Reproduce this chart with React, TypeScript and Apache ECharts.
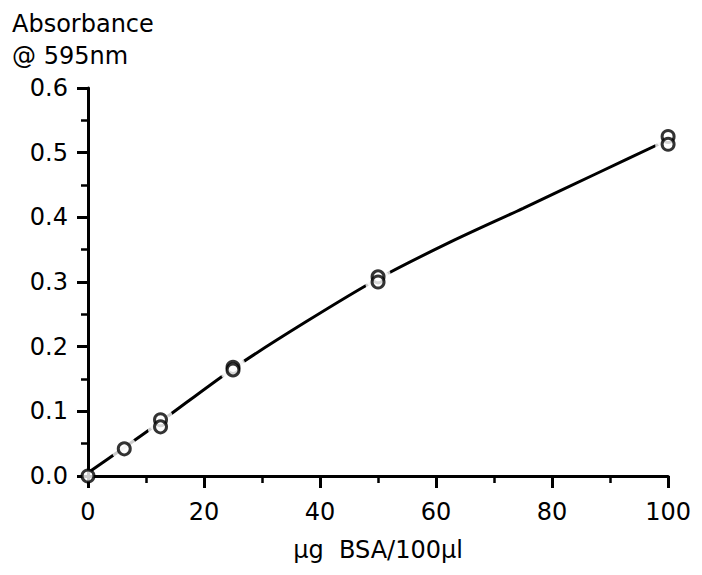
import React, { useEffect, useRef } from "react";
import * as echarts from "echarts";

// measured points: [µg BSA/100µl, absorbance]
const measuredPoints: [number, number][] = [
  [0, 0.0],
  [6.25, 0.042],
  [12.5, 0.087],
  [12.5, 0.076],
  [25, 0.168],
  [25, 0.164],
  [50, 0.308],
  [50, 0.3],
  [100, 0.525],
  [100, 0.513],
];

// fitted curve
const curveX = [0, 6.25, 12.5, 25, 37.5, 50, 62.5, 75, 87.5, 100];
const curveY = [0.005, 0.044, 0.084, 0.166, 0.238, 0.305, 0.362, 0.414, 0.467, 0.52];

const xTicks = [0, 20, 40, 60, 80, 100];
const yTicks = [0.0, 0.1, 0.2, 0.3, 0.4, 0.5, 0.6];

const FONT = "DejaVu Sans";

export default function App() {
  const ref = useRef<HTMLDivElement>(null);
  useEffect(() => {
    if (!ref.current) return;
    const chart = echarts.init(ref.current, null, { renderer: "svg" });
    const curve = curveX.map((x, i) => [x, curveY[i]]);
    const gapPts = measuredPoints.filter((p) => p[0] > 0);
    chart.setOption({
      animation: false,
      backgroundColor: "#fff",
      grid: { left: 80, right: 22, top: 80, bottom: 85 },
      graphic: [
        {
          type: "text",
          left: 4,
          top: 0,
          style: {
            text: "Absorbance\n@ 595nm",
            font: `24px '${FONT}'`,
            lineHeight: 32,
            fill: "#000",
          },
        },
      ],
      xAxis: {
        type: "value",
        min: xTicks[0],
        max: xTicks[xTicks.length - 1],
        interval: 20,
        splitLine: { show: false },
        axisLine: { lineStyle: { color: "#000", width: 3 } },
        axisTick: { length: 12, lineStyle: { color: "#000", width: 3 } },
        minorTick: { show: true, splitNumber: 2, length: 7, lineStyle: { color: "#000", width: 2.5 } },
        axisLabel: { color: "#000", fontSize: 24, fontFamily: FONT, margin: 24 },
        name: "µg  BSA/100µl",
        nameLocation: "middle",
        nameGap: 62,
        nameTextStyle: { color: "#000", fontSize: 24, fontFamily: FONT },
      },
      yAxis: {
        type: "value",
        min: yTicks[0],
        max: yTicks[yTicks.length - 1],
        interval: 0.1,
        splitLine: { show: false },
        axisLine: { lineStyle: { color: "#000", width: 3 } },
        axisTick: { length: 11, lineStyle: { color: "#000", width: 3 } },
        minorTick: { show: true, splitNumber: 2, length: 7, lineStyle: { color: "#000", width: 2.5 } },
        axisLabel: {
          color: "#000",
          fontSize: 24,
          fontFamily: FONT,
          margin: 20,
          formatter: (v: number) => v.toFixed(1),
        },
      },
      series: [
        {
          type: "line",
          data: curve,
          smooth: 0.3,
          showSymbol: false,
          lineStyle: { color: "#000", width: 3 },
          z: 2,
        },
        {
          type: "scatter",
          data: gapPts,
          symbol: "circle",
          symbolSize: 26,
          itemStyle: { color: "#fff", borderWidth: 0 },
          z: 3,
          silent: true,
        },
        {
          type: "scatter",
          data: measuredPoints,
          symbol: "circle",
          symbolSize: 12,
          itemStyle: { color: "#fff", borderColor: "#000", borderWidth: 3 },
          z: 4,
          clip: false,
        },
      ],
    });
    return () => chart.dispose();
  }, []);
  return <div ref={ref} style={{ width: 686, height: 559 }} />;
}
